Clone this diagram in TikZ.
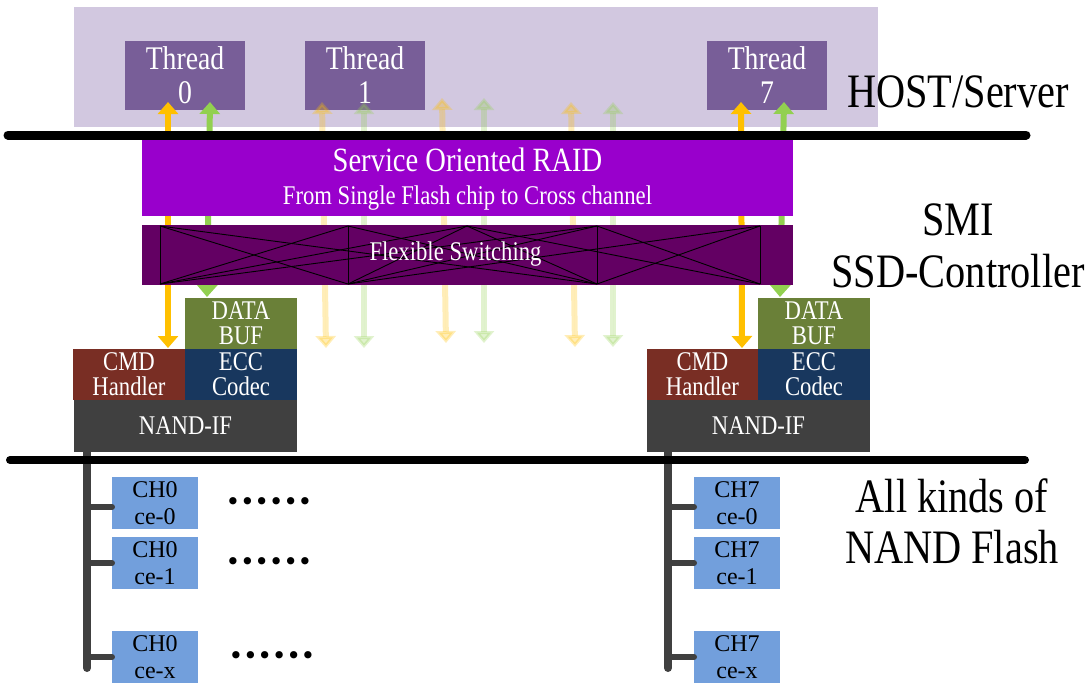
\documentclass[tikz,border=0pt]{standalone}
\usepackage{fontspec}
\setmainfont{Liberation Serif}[FakeStretch=0.84]
\newfontfamily\chfont{Liberation Serif}
\newfontfamily\dotfont{DejaVu Sans}
\usetikzlibrary{arrows.meta}
\definecolor{hostbg}{RGB}{210,200,224}
\definecolor{threadc}{RGB}{120,94,152}
\definecolor{raidc}{RGB}{153,0,204}
\definecolor{switchc}{RGB}{99,0,99}
\definecolor{databufc}{RGB}{106,128,56}
\definecolor{cmdc}{RGB}{121,46,36}
\definecolor{eccc}{RGB}{24,55,94}
\definecolor{nandc}{RGB}{64,64,64}
\definecolor{chc}{RGB}{114,159,220}
\definecolor{ayel}{RGB}{255,192,0}
\definecolor{agrn}{RGB}{146,208,80}
\newcommand{\dotrow}{\makebox[14.4pt]{•}\makebox[14.4pt]{•}\makebox[14.4pt]{•}\makebox[14.4pt]{•}\makebox[14.4pt]{•}\makebox[14.4pt]{•}}
\begin{document}
\begin{tikzpicture}[x=1pt,y=-1pt,
  blk/.style={inner sep=0pt, outer sep=0pt, text=white, align=center},
  thr/.style={blk, fill=threadc, minimum width=120pt, minimum height=69pt, font=\fontsize{33}{34}\selectfont},
  modbox/.style={blk, minimum width=112pt, minimum height=51pt, font=\fontsize{27}{25}\selectfont},
  nandbox/.style={blk, fill=nandc, minimum width=223pt, minimum height=52pt, font=\fontsize{27}{28}\selectfont},
  chbox/.style={inner sep=0pt, outer sep=0pt, fill=chc, minimum width=86pt, minimum height=52pt, align=center, font=\chfont\fontsize{24}{27}\selectfont},
  biglbl/.style={inner sep=0pt, anchor=base, font=\fontsize{48}{52}\selectfont},
  dotsrow/.style={inner sep=0pt, font=\dotfont\fontsize{25}{25}\selectfont},
  tip/.style={arrows={Triangle[width=20pt,length=12pt]-Triangle[width=20pt,length=12pt]}},
  yarr/.style={tip, draw=ayel, fill=ayel, line width=6pt},
  garr/.style={tip, draw=agrn, fill=agrn, line width=6pt},
  yfade/.style={yarr, opacity=0.28},
  gfade/.style={garr, opacity=0.28},
  hbar/.style={line width=9pt, line cap=round, draw=black},
  bus/.style={line width=8pt, line cap=round, draw=nandc},
  stub/.style={line width=6pt, line cap=round, draw=nandc},
  xline/.style={draw=black, line width=0.9pt}
]
\useasboundingbox (0,0) rectangle (1086,683);
% host area
\node[fill=hostbg, inner sep=0pt, minimum width=804pt, minimum height=120pt] (hostbox) at (476,67) {};
\node[thr] (t0) at (185,75.5) {Thread\\0};
\node[thr] (t1) at (365,75.5) {Thread\\1};
\node[thr] (t7) at (767,75.5) {Thread\\7};
% arrow end points
\coordinate (y0a) at (168,102);  \coordinate (y0b) at (168,348);
\coordinate (g0a) at (210,102);  \coordinate (g0b) at (207,297);
\coordinate (y7a) at (741,102);  \coordinate (y7b) at (742,348);
\coordinate (g7a) at (784,102);  \coordinate (g7b) at (780,297);
\coordinate (f1a) at (322,102);  \coordinate (f1b) at (326,348);
\coordinate (f2a) at (364,102);  \coordinate (f2b) at (364,348);
\coordinate (f3a) at (442,98);   \coordinate (f3b) at (446,343);
\coordinate (f4a) at (484,98);   \coordinate (f4b) at (484,343);
\coordinate (f5a) at (571,102);  \coordinate (f5b) at (575,347);
\coordinate (f6a) at (613,102);  \coordinate (f6b) at (613,347);
\draw[yfade] (f1a) -- (f1b);
\draw[gfade] (f2a) -- (f2b);
\draw[yfade] (f3a) -- (f3b);
\draw[gfade] (f4a) -- (f4b);
\draw[yfade] (f5a) -- (f5b);
\draw[gfade] (f6a) -- (f6b);
\draw[yarr] (y0a) -- (y0b);
\draw[garr] (g0a) -- (g0b);
\draw[yarr] (y7a) -- (y7b);
\draw[garr] (g7a) -- (g7b);
% top bar
\coordinate (tbl) at (8,135); \coordinate (tbr) at (1026,135);
\draw[hbar] (tbl) -- (tbr);
% RAID
\node[fill=raidc, inner sep=0pt, minimum width=651pt, minimum height=76pt] (raid) at (467.5,178) {};
\node[text=white, inner sep=0pt, font=\fontsize{34}{34}\selectfont] (raidt1) at (467.5,160) {Service Oriented RAID};
\node[text=white, inner sep=0pt, font=\fontsize{27}{27}\selectfont] (raidt2) at (467.5,198) {From Single Flash chip to Cross channel};
% switching
\node[fill=switchc, inner sep=0pt, minimum width=651pt, minimum height=60pt] (sw) at (467.5,255) {};
\foreach \x in {160,348,597,760}{\draw[xline] (\x,226) -- (\x,284);}
\foreach \a/\b in {160/348, 348/160, 348/597, 597/348, 597/760, 760/597,
                   160/597, 467/160, 467/597, 467/760, 760/348, 467/348, 597/160}{
  \draw[xline] (\a,226) -- (\b,284);
}
\node[text=white, inner sep=0pt, font=\fontsize{27}{27}\selectfont] (swt) at (455.5,254) {Flexible Switching};
% left module
\node[modbox, fill=databufc] (dbL) at (241,323.5) {DATA\\BUF};
\node[modbox, fill=cmdc] (cmdL) at (129,374.5) {CMD\\Handler};
\node[modbox, fill=eccc] (eccL) at (241,374.5) {ECC\\Codec};
\node[nandbox] (nandL) at (185.5,426) {NAND-IF};
% right module
\node[modbox, fill=databufc] (dbR) at (814,323.5) {DATA\\BUF};
\node[modbox, fill=cmdc, minimum width=111pt] (cmdR) at (702.5,374.5) {CMD\\Handler};
\node[modbox, fill=eccc] (eccR) at (814,374.5) {ECC\\Codec};
\node[nandbox] (nandR) at (758.5,426) {NAND-IF};
% channel boxes
\node[chbox] (l0) at (155,503) {CH0\\ce-0};
\node[chbox] (l1) at (155,563) {CH0\\ce-1};
\node[chbox] (lx) at (155,657) {CH0\\ce-x};
\node[chbox] (r0) at (737,503) {CH7\\ce-0};
\node[chbox] (r1) at (737,563) {CH7\\ce-1};
\node[chbox] (rx) at (737,657) {CH7\\ce-x};
% buses
\coordinate (busLbot) at (87,668);
\coordinate (busRbot) at (668,668);
\draw[bus] (nandL.south -| busLbot) -- (busLbot);
\draw[bus] (nandR.south -| busRbot) -- (busRbot);
\coordinate (sl0) at (87,507); \coordinate (sl1) at (87,563); \coordinate (slx) at (87,657);
\coordinate (sr0) at (668,507); \coordinate (sr1) at (668,563); \coordinate (srx) at (668,657);
\draw[stub] (sl0) -- (sl0 -| l0.west);
\draw[stub] (sl1) -- (sl1 -| l1.west);
\draw[stub] (slx) -- (slx -| lx.west);
\draw[stub] (sr0) -- (sr0 -| r0.west);
\draw[stub] (sr1) -- (sr1 -| r1.west);
\draw[stub] (srx) -- (srx -| rx.west);
% bottom bar
\coordinate (bbl) at (10,460); \coordinate (bbr) at (1025,460);
\draw[hbar, line width=8pt] (bbl) -- (bbr);
% dots
\node[dotsrow] (d0) at (269,504) {\dotrow};
\node[dotsrow] (d1) at (269,564) {\dotrow};
\node[dotsrow] (dx) at (272,658) {\dotrow};
% labels
\node[biglbl] (host) at (958,107) {HOST/Server};
\node[biglbl] (smi) at (958,235) {SMI};
\node[biglbl] (ssd) at (958,287) {SSD-Controller};
\node[biglbl] (allk) at (952,512) {All kinds of};
\node[biglbl] (nandf) at (952,563) {NAND Flash};
\end{tikzpicture}
\end{document}
